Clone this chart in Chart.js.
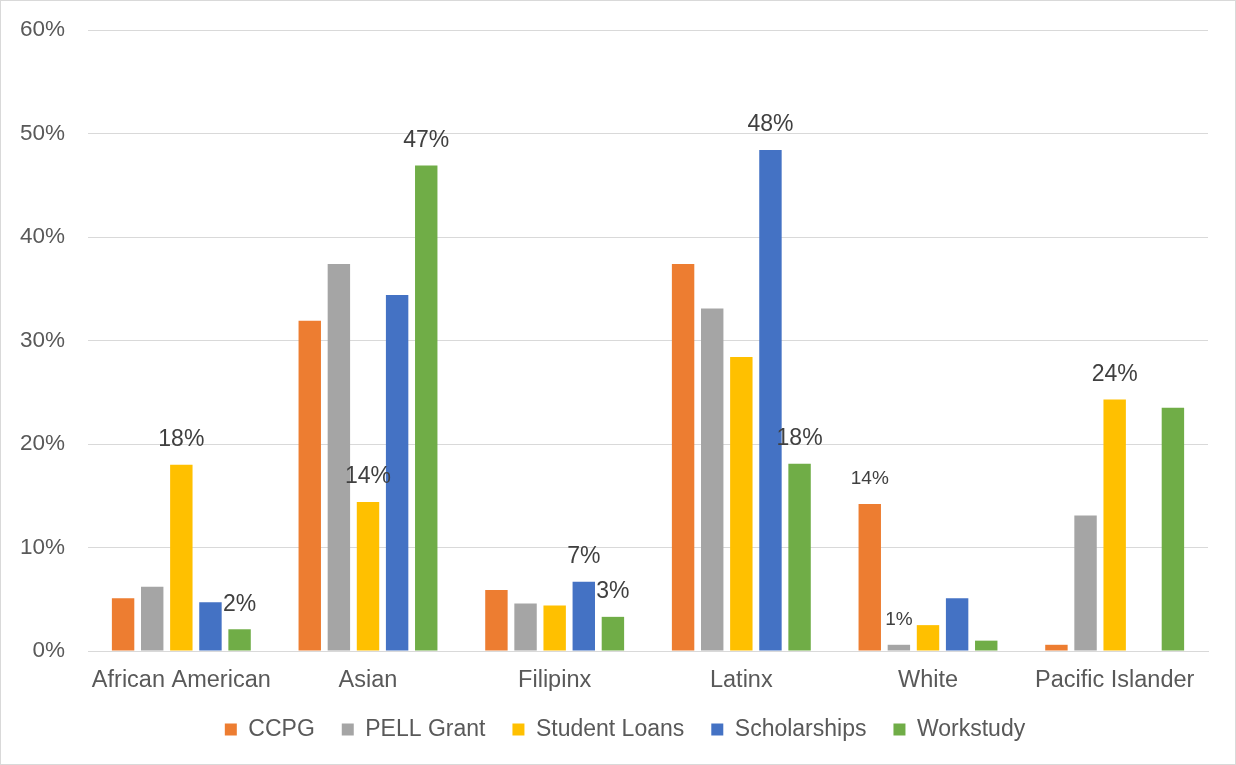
<!DOCTYPE html>
<html>
<head>
<meta charset="utf-8">
<script src="https://cdn.jsdelivr.net/npm/chart.js@4"></script>
<style>
  html, body { margin: 0; padding: 0; background: #fff; }
  #wrap { width: 1236px; height: 765px; box-sizing: border-box; border: 1px solid #d9d9d9; position: relative; }
  canvas { display: block; }
</style>
</head>
<body>
<div id="wrap"><canvas id="c" width="1234" height="763"></canvas></div>
<script>
const categories = ['African American', 'Asian', 'Filipinx', 'Latinx', 'White', 'Pacific Islander'];
const seriesNames = ['CCPG', 'PELL Grant', 'Student Loans', 'Scholarships', 'Workstudy'];
const ccpg         = [5.1, 31.9, 5.9, 37.4, 14.2, 0.6];
const pellGrant    = [6.2, 37.4, 4.6, 33.1, 0.6, 13.1];
const studentLoans = [18.0, 14.4, 4.4, 28.4, 2.5, 24.3];
const scholarships = [4.7, 34.4, 6.7, 48.4, 5.1, 0];
const workstudy    = [2.1, 46.9, 3.3, 18.1, 1.0, 23.5];
const yTicks = [0, 10, 20, 30, 40, 50, 60];
// [series index, category index] of the bars that carry a value label
const labelledBars = [[2,0],[4,0],[2,1],[4,1],[3,2],[4,2],[3,3],[4,3],[0,4],[1,4],[2,5]];

const colors = ['#ED7D31', '#A5A5A5', '#FFC000', '#4472C4', '#70AD47'];
const seriesValues = [ccpg, pellGrant, studentLoans, scholarships, workstudy];
const FAMILY = "'Liberation Sans', Arial, sans-serif";

Chart.defaults.font.family = FAMILY;
Chart.defaults.font.size = 22;
Chart.defaults.color = '#595959';

const valueLabels = {
  id: 'valueLabels',
  afterLayout(chart) {
    // nudge the centred legend to the reference position
    if (chart.legend) { chart.legend.left += 12; chart.legend.right += 12; }
  },
  afterDatasetsDraw(chart) {
    const ctx = chart.ctx;
    ctx.save();
    ctx.fillStyle = '#404040';
    ctx.textAlign = 'center';
    ctx.textBaseline = 'middle';
    labelledBars.forEach(([s, c]) => {
      const el = chart.getDatasetMeta(s).data[c];
      const v = chart.data.datasets[s].data[c];
      const small = c === 4;
      ctx.font = (small ? 19 : 23) + 'px ' + FAMILY;
      ctx.fillText(Math.round(v) + '%', el.x, el.y - 25);
    });
    ctx.restore();
  }
};

new Chart(document.getElementById('c'), {
  type: 'bar',
  data: {
    labels: categories,
    datasets: seriesNames.map((n, i) => ({
      label: n,
      data: seriesValues[i],
      backgroundColor: colors[i],
      borderWidth: 0,
      categoryPercentage: 0.78,
      barPercentage: 0.77
    }))
  },
  options: {
    responsive: false,
    animation: false,
    devicePixelRatio: 1,
    layout: { padding: { left: 17, right: 27, top: 29, bottom: 13 } },
    plugins: {
      legend: {
        position: 'bottom',
        labels: { boxWidth: 12, boxHeight: 12, padding: 27, color: '#595959', font: { size: 23 } }
      },
      tooltip: { enabled: false }
    },
    scales: {
      x: {
        grid: { display: false, drawTicks: false },
        border: { display: true, color: '#d9d9d9', width: 1 },
        ticks: { padding: 15, color: '#595959', font: { size: 23.5 } },
        afterFit(axis) { axis.height = 40; }
      },
      y: {
        min: 0, max: 60,
        afterBuildTicks(axis) { axis.ticks = yTicks.map(v => ({ value: v })); },
        grid: { color: '#d9d9d9', lineWidth: 1, drawTicks: false },
        border: { display: false },
        ticks: { padding: 23, color: '#595959', font: { size: 22.5 }, callback: v => v + '%' },
        afterFit(axis) { axis.width = 70; axis.paddingTop = 0; axis.paddingBottom = 0; }
      }
    }
  },
  plugins: [valueLabels]
});
</script>
</body>
</html>
